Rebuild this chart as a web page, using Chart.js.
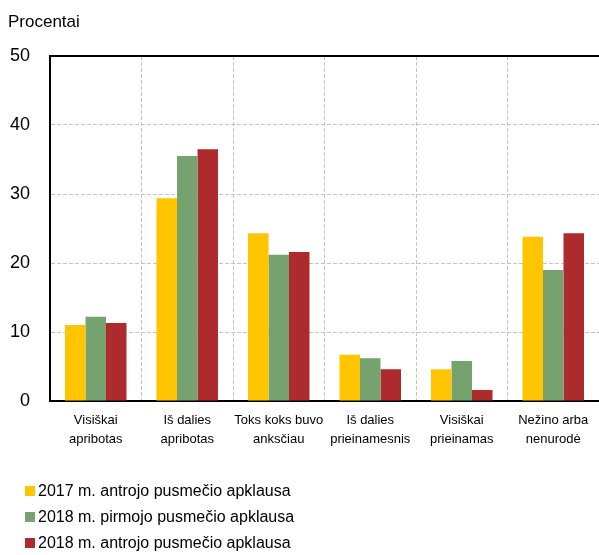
<!DOCTYPE html>
<html><head><meta charset="utf-8">
<script src="https://cdn.jsdelivr.net/npm/chart.js@4"></script>
<style>html,body{margin:0;padding:0;background:#fff}</style>
</head><body>
<canvas id="c" width="599" height="555"></canvas>
<script>
const categories = [["Visiškai","apribotas"],["Iš dalies","apribotas"],["Toks koks buvo","anksčiau"],["Iš dalies","prieinamesnis"],["Visiškai","prieinamas"],["Nežino arba","nenurodė"]];
const seriesNames = ["2017 m. antrojo pusmečio apklausa","2018 m. pirmojo pusmečio apklausa","2018 m. antrojo pusmečio apklausa"];
const values2017H2 = [11.0, 29.4, 24.3, 6.7, 4.6, 23.8];
const values2018H1 = [12.2, 35.5, 21.2, 6.2, 5.8, 19.0];
const values2018H2 = [11.3, 36.5, 21.6, 4.6, 1.6, 24.3];
const yTicks = [0, 10, 20, 30, 40, 50];
const axisTitle = "Procentai";

const FONT = "'Liberation Sans', Arial, sans-serif";
const colors = ["#FFC600", "#75A26E", "#AD2B2D"];

const extras = {
  id: 'extras',
  afterDraw(chart) {
    const {ctx, chartArea} = chart;
    ctx.save();
    ctx.strokeStyle = '#000';
    ctx.lineWidth = 2;
    ctx.beginPath();
    ctx.moveTo(chartArea.left - 1, chartArea.top);
    ctx.lineTo(chartArea.right, chartArea.top);
    ctx.stroke();
    ctx.font = '16px ' + FONT;
    ctx.textBaseline = 'middle';
    ctx.textAlign = 'left';
    const y0 = chartArea.bottom + 90;
    chart.data.datasets.forEach((ds, i) => {
      const y = y0 + i * 26;
      ctx.fillStyle = ds.backgroundColor;
      ctx.fillRect(25, y - 5, 10, 10);
      ctx.fillStyle = '#000';
      ctx.fillText(ds.label, 38, y + 1);
    });
    ctx.restore();
  }
};

new Chart(document.getElementById('c'), {
  type: 'bar',
  data: {
    labels: categories,
    datasets: [
      {label: seriesNames[0], data: values2017H2, backgroundColor: colors[0]},
      {label: seriesNames[1], data: values2018H1, backgroundColor: colors[1]},
      {label: seriesNames[2], data: values2018H2, backgroundColor: colors[2]}
    ]
  },
  options: {
    responsive: false,
    animation: false,
    events: [],
    layout: {padding: {left: 8, right: 0, top: 0, bottom: 84}},
    datasets: {bar: {categoryPercentage: 0.672, barPercentage: 1.0, borderWidth: 0}},
    plugins: {
      legend: {display: false},
      tooltip: {enabled: false},
      title: {
        display: true, text: axisTitle, align: 'start', color: '#000',
        font: {family: FONT, size: 17, weight: 'normal', lineHeight: 1.2},
        padding: {top: 12, bottom: 23.6}
      }
    },
    scales: {
      x: {
        grid: {
          display: true, drawTicks: false, lineWidth: 1,
          color: (c) => (c.index === categories.length ? 'rgba(0,0,0,0)' : '#c4c4c4')
        },
        border: {display: true, color: '#000', width: 2, dash: [4, 2]},
        ticks: {color: '#000', padding: 10, font: {family: FONT, size: 13, lineHeight: 1.45}, maxRotation: 0, autoSkip: false},
        afterFit: (s) => { s.height = 70; s.paddingLeft = 0; s.paddingRight = 0; }
      },
      y: {
        min: 0, max: 50,
        grid: {drawTicks: false, color: '#c4c4c4', lineWidth: 1},
        border: {display: true, color: '#000', width: 2, dash: [4, 2]},
        afterBuildTicks: (s) => { s.ticks = yTicks.map(v => ({value: v})); },
        ticks: {color: '#000', padding: 20, font: {family: FONT, size: 18}},
        afterFit: (s) => { s.width = 42; }
      }
    }
  },
  plugins: [extras]
});
</script>
</body></html>
